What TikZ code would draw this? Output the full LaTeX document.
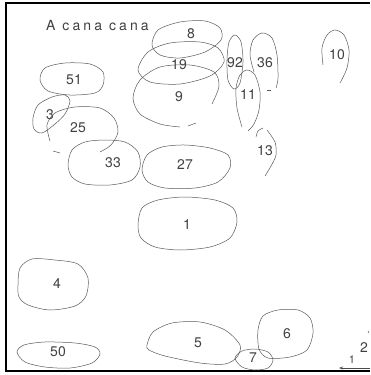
\documentclass[tikz,border=0pt]{standalone}
\usepackage{fontspec}
\setmainfont{TeX Gyre Heros}
\newfontfamily\titlefont[LetterSpace=22]{TeX Gyre Heros}
\usetikzlibrary{arrows.meta}

\begin{document}
\begin{tikzpicture}[x=1pt, y=-1pt,
        homerange/.style = {draw=black!65, line width=0.5pt},
        lbl/.style = {inner sep=0pt, text=black!75, font=\fontsize{14}{16}\selectfont}]
            \useasboundingbox (0,0) rectangle (370,375);

            % frame
            \draw[line width=1.3pt] (370,3) -- (6,3) -- (6,371) -- (370,371);
            \node[lbl, anchor=west] (title) at (46,26) {\titlefont A cana cana};

            % upper cluster
            \draw[homerange] plot[smooth cycle] coordinates {(152,45) (158,30) (180,22) (205,21) (220,28) (221,40) (205,52) (180,58) (160,55)};
            \node[lbl] (r8) at (191,34) {8};

            \draw[homerange] plot[smooth cycle] coordinates {(138,70) (148,52) (170,43) (200,42) (218,48) (224,62) (210,76) (180,84) (150,82)};
            \node[lbl] (r19) at (179,65) {19};

            \draw[homerange] plot[smooth] coordinates {(212,104) (219,86) (214,72) (190,65) (160,67) (140,80) (133,98) (140,114) (160,124) (180,127)};
            \draw[homerange] plot[smooth] coordinates {(188,126) (196,123)};
            \node[lbl] (r9) at (179,97) {9};

            \draw[homerange] plot[smooth cycle] coordinates {(227,60) (229,42) (235,35) (241,42) (243,62) (240,83) (234,89) (228,80)};
            \node[lbl] (r92) at (235,63) {92};

            \draw[homerange] plot[smooth] coordinates {(254,72) (250,55) (253,40) (262,33) (272,38) (277,55) (278,78) (276,88)};
            \draw[homerange] (267,90) -- (271,90);
            \node[lbl] (r36) at (265,63) {36};

            \draw[homerange] plot[smooth] coordinates {(242,127) (237,108) (236,88) (240,75) (247,70) (255,75) (260,92) (259,110) (254,124) (248,131)};
            \node[lbl] (r11) at (248,95) {11};

            \draw[homerange] plot[smooth] coordinates {(256,137) (258,131) (263,128)};
            \draw[homerange] plot[smooth] coordinates {(267,130) (275,142) (276,155) (271,166) (265,176)};
            \node[lbl] (r13) at (265,151) {13};

            \draw[homerange] plot[smooth] coordinates {(323,65) (322,48) (327,35) (335,30) (344,35) (349,50) (347,68) (340,83)};
            \node[lbl] (r10) at (337,55) {10};

            % left cluster
            \draw[homerange] plot[smooth cycle] coordinates {(40,80) (45,68) (65,63) (90,64) (103,72) (103,85) (95,93) (70,95) (48,91)};
            \node[lbl] (r51) at (74,80) {51};

            \draw[homerange] plot[smooth cycle] coordinates {(33,118) (38,105) (52,97) (65,95) (70,101) (65,114) (55,124) (42,133) (34,129)};
            \node[lbl] (r3) at (50,115) {3};

            \draw[homerange] plot[smooth] coordinates {(50,141) (47,125) (55,113) (75,107) (100,108) (114,118) (118,132) (111,145) (100,152)};
            \draw[homerange] (53,151) -- (60,153);
            \node[lbl] (r25) at (78,128) {25};

            \draw[homerange] plot[smooth cycle] coordinates {(68,165) (72,150) (85,142) (105,140) (125,142) (138,152) (140,167) (132,180) (110,185) (85,184) (72,177)};
            \node[lbl] (r33) at (113,163) {33};

            \draw[homerange] plot[smooth cycle] coordinates {(142,170) (147,155) (162,147) (185,145) (210,148) (228,155) (230,168) (218,182) (195,188) (165,188) (148,182)};
            \node[lbl] (r27) at (185,165) {27};

            \draw[homerange] plot[smooth cycle] coordinates {(138,225) (142,208) (158,200) (185,197) (215,200) (233,208) (237,222) (230,238) (210,247) (180,250) (155,247) (141,238)};
            \node[lbl] (r1) at (187,225) {1};

            % lower ranges
            \draw[homerange] plot[smooth cycle] coordinates {(18,285) (20,268) (32,259) (55,260) (78,264) (88,278) (86,296) (75,306) (50,310) (28,305) (19,297)};
            \node[lbl] (r4) at (57,284) {4};

            \draw[homerange] plot[smooth cycle] coordinates {(17,352) (24,345) (45,342) (75,343) (95,347) (100,354) (92,363) (70,368) (45,367) (25,362)};
            \node[lbl] (r50) at (58,352) {50};

            \draw[homerange] plot[smooth cycle] coordinates {(147,345) (153,332) (172,323) (200,322) (225,330) (240,345) (237,357) (225,364) (200,363) (165,356) (149,350)};
            \node[lbl] (r5) at (198,343) {5};

            \draw[homerange] plot[smooth cycle] coordinates {(235,358) (242,351) (255,349) (268,352) (273,360) (268,368) (255,370) (242,367)};
            \node[lbl] (r7) at (253,358) {7};

            \draw[homerange] plot[smooth cycle] coordinates {(258,330) (263,316) (278,310) (298,310) (310,318) (313,333) (307,350) (290,357) (268,358) (259,349)};
            \node[lbl] (r6) at (287,334) {6};

            % scale
            \node[lbl] (two) at (364,348) {2};
            \draw[homerange] (368,333) -- (369,331);
            \coordinate (sbR) at (370,368);
            \coordinate (sbL) at (339,368);
            \draw[black!70, line width=0.6pt, -{Stealth[length=4pt]}] (sbR) -- (sbL);
            \node[lbl, font=\fontsize{11}{12}\selectfont] (one) at (352,360) {1};
\end{tikzpicture}
\end{document}
